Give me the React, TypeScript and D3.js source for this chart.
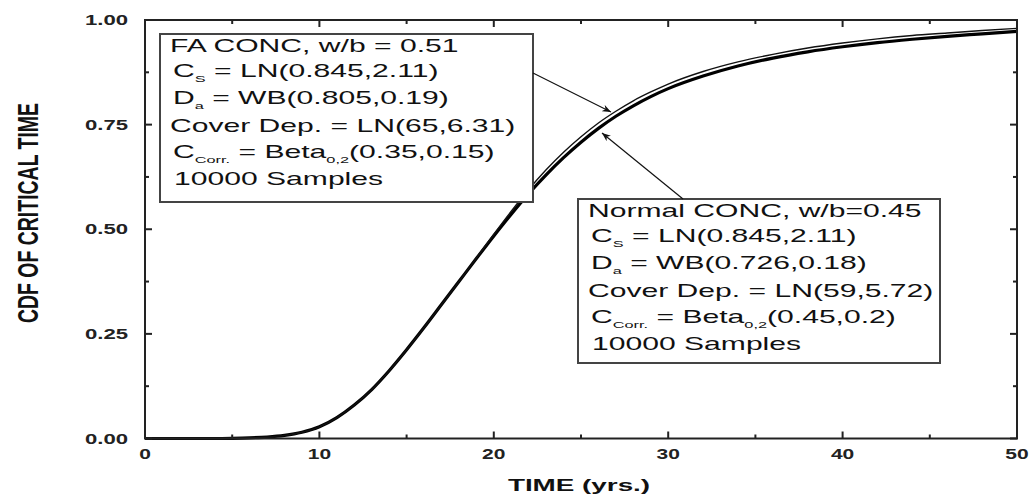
import React from "react";
import * as d3 from "d3";

// time (yrs.) sample points
const times = [0, 2, 4, 5, 6, 7, 8, 9, 10, 11, 12, 13, 14, 15, 16, 17, 18, 19, 20, 21, 22, 23, 24, 25, 26, 27, 28, 29, 30, 32, 34, 36, 38, 40, 42, 44, 46, 48, 50];

// Normal CONC, w/b=0.45 (thick line)
const normalCdf = [0, 0, 0, 0.0005, 0.0015, 0.0035, 0.0075, 0.015, 0.028, 0.05, 0.08, 0.117, 0.162, 0.212, 0.265, 0.32, 0.375, 0.43, 0.484, 0.536, 0.585, 0.63, 0.671, 0.708, 0.741, 0.77, 0.795, 0.817, 0.836, 0.866, 0.89, 0.909, 0.924, 0.936, 0.946, 0.954, 0.961, 0.967, 0.973];

// FA CONC, w/b = 0.51 (thin line)
const faCdf = [0, 0, 0, 0.0005, 0.0015, 0.0035, 0.0075, 0.015, 0.028, 0.05, 0.08, 0.117, 0.162, 0.212, 0.265, 0.32, 0.375, 0.431, 0.488, 0.543, 0.595, 0.642, 0.684, 0.721, 0.754, 0.782, 0.807, 0.828, 0.847, 0.877, 0.9, 0.918, 0.933, 0.945, 0.955, 0.963, 0.969, 0.975, 0.98];

const xTicks = [0, 10, 20, 30, 40, 50];
const xMinor = [5, 15, 25, 35, 45];
const yTicks = [0, 0.25, 0.5, 0.75, 1];
const yMinor = [0.125, 0.375, 0.625, 0.875];

type Seg = { t: string; sub?: boolean };

const faLegend: Seg[][] = [
  [{ t: "FA CONC, w/b = 0.51" }],
  [{ t: "C" }, { t: "S", sub: true }, { t: " = LN(0.845,2.11)" }],
  [{ t: "D" }, { t: "a", sub: true }, { t: " = WB(0.805,0.19)" }],
  [{ t: "Cover Dep. = LN(65,6.31)" }],
  [{ t: "C" }, { t: "Corr.", sub: true }, { t: " = Beta" }, { t: "0,2", sub: true }, { t: "(0.35,0.15)" }],
  [{ t: "10000 Samples" }],
];

const normalLegend: Seg[][] = [
  [{ t: "Normal CONC, w/b=0.45" }],
  [{ t: "C" }, { t: "S", sub: true }, { t: " = LN(0.845,2.11)" }],
  [{ t: "D" }, { t: "a", sub: true }, { t: " = WB(0.726,0.18)" }],
  [{ t: "Cover Dep. = LN(59,5.72)" }],
  [{ t: "C" }, { t: "Corr.", sub: true }, { t: " = Beta" }, { t: "0,2", sub: true }, { t: "(0.45,0.2)" }],
  [{ t: "10000 Samples" }],
];

const W = 1032;
const H = 495;
const left = 145, right = 1017, top = 20, bottom = 438.5;
const font = "'Liberation Sans', Arial, Helvetica, sans-serif";
const SX = 1.72; // the figure is stretched horizontally
const lineOffsets = [18, 43, 70, 98, 124, 151];
const lineIndent = [10, 13, 13, 10, 13, 14];

function Legend({ x, y, w, h, lines }: { x: number; y: number; w: number; h: number; lines: Seg[][] }) {
  return (
    <g>
      <rect x={x} y={y} width={w} height={h} fill="#fff" stroke="#444" strokeWidth={2} />
      {lines.map((segs, i) => {
        let shift = 0;
        return (
          <text
            key={i}
            transform={`translate(${x + lineIndent[i]},${y + lineOffsets[i]}) scale(${SX},1)`}
            fontFamily={font}
            fontSize={17.5}
            fill="#111"
          >
            {segs.map((s, j) => {
              const dy = s.sub ? 5 - shift : -shift;
              shift = s.sub ? 5 : 0;
              return (
                <tspan key={j} dy={dy} fontSize={s.sub ? 9.5 : 17.5}>
                  {s.t}
                </tspan>
              );
            })}
          </text>
        );
      })}
    </g>
  );
}

export default function App() {
  const x = d3.scaleLinear().domain([0, 50]).range([left, right]);
  const y = d3.scaleLinear().domain([0, 1]).range([bottom, top]);

  const line = d3
    .line<number>()
    .x((_, i) => x(times[i]))
    .y(d => y(d))
    .curve(d3.curveMonotoneX);

  return (
    <svg width={W} height={H} style={{ position: "absolute", left: 0, top: 0, background: "#fff" }}>
      <defs>
        <marker id="arr" viewBox="0 0 10 8" refX={10} refY={4} markerWidth={9} markerHeight={7} orient="auto" markerUnits="userSpaceOnUse">
          <path d="M0,0 L10,4 L0,8 L3,4 z" fill="#111" />
        </marker>
      </defs>

      {/* curves */}
      <path d={line(normalCdf) || ""} fill="none" stroke="#000" strokeWidth={3.2} />
      <path d={line(faCdf) || ""} fill="none" stroke="#111" strokeWidth={1.4} />

      {/* frame */}
      <rect x={left} y={top} width={right - left} height={bottom - top} fill="none" stroke="#222" strokeWidth={2} />

      {/* x ticks, inward on bottom and top */}
      {xTicks.map(t => (
        <g key={"xt" + t}>
          <line x1={x(t)} x2={x(t)} y1={bottom} y2={bottom - 7} stroke="#222" strokeWidth={2} />
          <line x1={x(t)} x2={x(t)} y1={top} y2={top + 7} stroke="#222" strokeWidth={2} />
          <text
            transform={`translate(${x(t)},459) scale(1.5,1)`}
            textAnchor="middle"
            fontFamily={font}
            fontWeight="bold"
            fontSize={14}
            fill="#222"
          >
            {t}
          </text>
        </g>
      ))}
      {xMinor.map(t => (
        <g key={"xm" + t}>
          <line x1={x(t)} x2={x(t)} y1={bottom} y2={bottom - 4} stroke="#222" strokeWidth={2} />
          <line x1={x(t)} x2={x(t)} y1={top} y2={top + 4} stroke="#222" strokeWidth={2} />
        </g>
      ))}

      {/* y ticks */}
      {yTicks.map(t => (
        <g key={"yt" + t}>
          <line x1={left} x2={left + 7} y1={y(t)} y2={y(t)} stroke="#222" strokeWidth={2} />
          <line x1={right} x2={right - 7} y1={y(t)} y2={y(t)} stroke="#222" strokeWidth={2} />
          <text
            transform={`translate(128,${y(t) + 5}) scale(1.58,1)`}
            textAnchor="end"
            fontFamily={font}
            fontWeight="bold"
            fontSize={14}
            fill="#222"
          >
            {d3.format(".2f")(t)}
          </text>
        </g>
      ))}
      {yMinor.map(t => (
        <g key={"ym" + t}>
          <line x1={left} x2={left + 4} y1={y(t)} y2={y(t)} stroke="#222" strokeWidth={2} />
          <line x1={right} x2={right - 4} y1={y(t)} y2={y(t)} stroke="#222" strokeWidth={2} />
        </g>
      ))}

      {/* axis titles */}
      <text
        transform={`translate(579,491) scale(1.74,1)`}
        textAnchor="middle"
        fontFamily={font}
        fontWeight="bold"
        fontSize={16}
        fill="#111"
      >
        TIME (yrs.)
      </text>
      <text
        transform={`translate(38,213) scale(1.55,1) rotate(-90)`}
        textAnchor="middle"
        fontFamily={font}
        fontWeight="bold"
        fontSize={19}
        textLength={220}
        lengthAdjust="spacingAndGlyphs"
        fill="#111"
      >
        CDF OF CRITICAL TIME
      </text>

      {/* legends */}
      <Legend x={160} y={34} w={373} h={168} lines={faLegend} />
      <Legend x={578} y={199} w={362} h={164} lines={normalLegend} />

      {/* arrows */}
      <line x1={533} y1={73} x2={611} y2={112} stroke="#111" strokeWidth={1.2} markerEnd="url(#arr)" />
      <line x1={683} y1={199} x2={602} y2={133} stroke="#111" strokeWidth={1.2} markerEnd="url(#arr)" />
    </svg>
  );
}
